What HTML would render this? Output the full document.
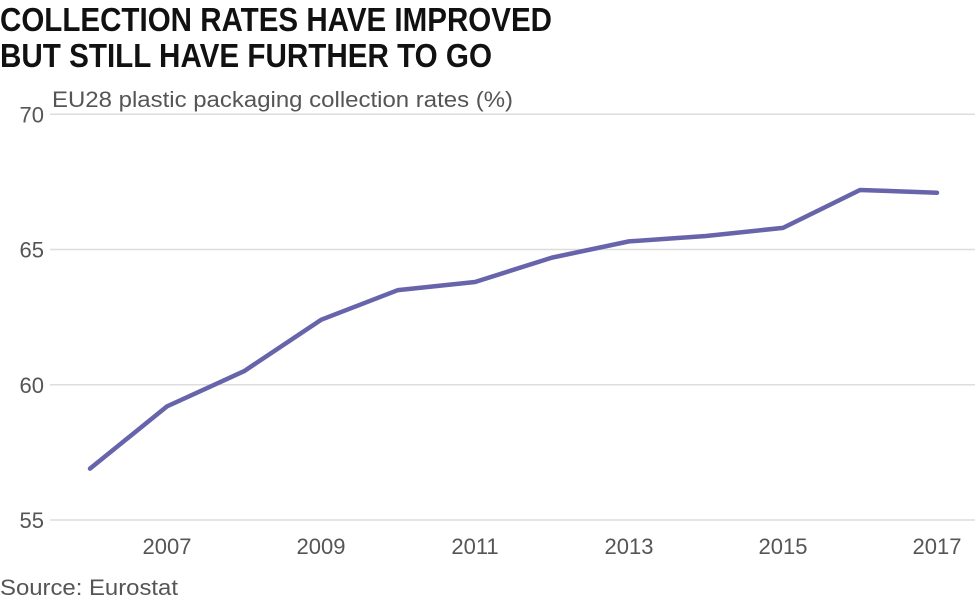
<!DOCTYPE html>
<html><head><meta charset="utf-8"><style>
body{margin:0;background:#fff;width:980px;height:605px;overflow:hidden;font-family:"Liberation Sans",sans-serif}
svg{display:block}
</style></head><body>
<svg id="chart" width="980" height="605">
<text x="0" y="31" font-weight="bold" font-size="33" fill="#111" textLength="552" lengthAdjust="spacingAndGlyphs">COLLECTION RATES HAVE IMPROVED</text>
<text x="0" y="67" font-weight="bold" font-size="33" fill="#111" textLength="492" lengthAdjust="spacingAndGlyphs">BUT STILL HAVE FURTHER TO GO</text>
<text x="52" y="107" font-size="22" fill="#555" textLength="461" lengthAdjust="spacingAndGlyphs">EU28 plastic packaging collection rates (%)</text>
<text x="0" y="595" font-size="22" fill="#555" textLength="178" lengthAdjust="spacingAndGlyphs">Source: Eurostat</text>
<g id="grid"></g><g id="ylabels"></g><g id="xlabels"></g>
<path id="line" fill="none" stroke="#6764ab" stroke-width="4.5" stroke-linejoin="round" stroke-linecap="round"/>
</svg>
<script>
const years=[2006,2007,2008,2009,2010,2011,2012,2013,2014,2015,2016,2017];
const rates=[56.9,59.2,60.5,62.4,63.5,63.8,64.7,65.3,65.5,65.8,67.2,67.1];
const yTicks=[55,60,65,70];
const xTicks=[2007,2009,2011,2013,2015,2017];
const ns="http://www.w3.org/2000/svg";
const x=v=>90+(v-2006)*77;
const y=v=>520-(v-55)*27.05;
const g=document.getElementById('grid'),yl=document.getElementById('ylabels'),xl=document.getElementById('xlabels');
yTicks.forEach(t=>{
 const l=document.createElementNS(ns,'line');
 
 
 l.setAttribute('x1',50);l.setAttribute('x2',975);l.setAttribute('y1',y(t));l.setAttribute('y2',y(t));
 l.setAttribute('stroke','#ddd');l.setAttribute('stroke-width','1.5');g.appendChild(l);
 const tx=document.createElementNS(ns,'text');
 
 
 tx.setAttribute('x',44);tx.setAttribute('y',y(t)+8);tx.setAttribute('text-anchor','end');
 tx.setAttribute('font-size','22');tx.setAttribute('fill','#555');tx.textContent=t;yl.appendChild(tx);
});
xTicks.forEach(t=>{
 const tx=document.createElementNS(ns,'text');
 
 
 tx.setAttribute('x',x(t));tx.setAttribute('y',554);tx.setAttribute('text-anchor','middle');
 tx.setAttribute('font-size','22');tx.setAttribute('fill','#555');tx.textContent=t;xl.appendChild(tx);
});
document.getElementById('line').setAttribute('d',years.map((yr,i)=>(i?'L':'M')+x(yr)+','+y(rates[i])).join(' '));
</script>
</body></html>
